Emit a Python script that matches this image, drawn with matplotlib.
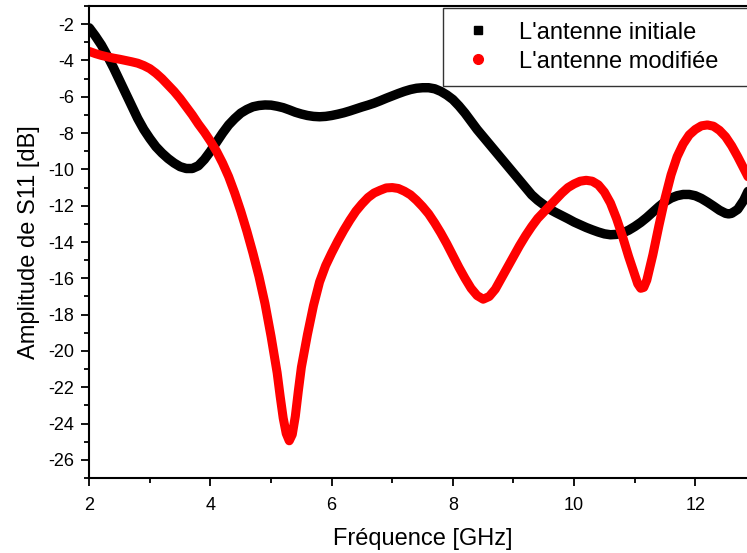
import matplotlib
matplotlib.use("Agg")
import matplotlib.pyplot as plt
from matplotlib.lines import Line2D
from matplotlib.ticker import MultipleLocator

plt.rcParams['font.family'] = ['Liberation Sans', 'DejaVu Sans']
plt.rcParams['axes.unicode_minus'] = False

# values
freq_init = [2.0, 2.1, 2.2, 2.3, 2.4, 2.5, 2.6, 2.7, 2.8, 2.9, 3.0, 3.1, 3.2, 3.3, 3.4,
             3.5, 3.6, 3.7, 3.8, 3.9, 4.0, 4.1, 4.2, 4.3, 4.4, 4.5, 4.6, 4.7, 4.8, 4.9,
             5.0, 5.1, 5.2, 5.3, 5.4, 5.5, 5.6, 5.7, 5.8, 5.9, 6.0, 6.1, 6.2, 6.3, 6.4,
             6.5, 6.6, 6.7, 6.8, 6.9, 7.0, 7.1, 7.2, 7.3, 7.4, 7.5, 7.6, 7.7, 7.8, 7.9,
             8.0, 8.1, 8.2, 8.3, 8.4, 8.5, 8.6, 8.7, 8.8, 8.9, 9.0, 9.1, 9.2, 9.3, 9.4,
             9.5, 9.6, 9.7, 9.8, 9.9, 10.0, 10.1, 10.2, 10.3, 10.4, 10.5, 10.6, 10.7,
             10.8, 10.9, 11.0, 11.1, 11.2, 11.3, 11.4, 11.5, 11.6, 11.7, 11.8, 11.9,
             12.0, 12.1, 12.2, 12.3, 12.4, 12.5, 12.55, 12.6, 12.7, 12.8, 12.9, 13.0]
s11_init = [-2.2, -2.65, -3.15, -3.75, -4.4, -5.1, -5.8, -6.5, -7.2, -7.8, -8.3, -8.75,
            -9.1, -9.4, -9.65, -9.85, -9.95, -9.95, -9.8, -9.45, -9.0, -8.5, -8.0, -7.55,
            -7.2, -6.9, -6.7, -6.55, -6.48, -6.45, -6.46, -6.52, -6.6, -6.72, -6.85,
            -6.95, -7.03, -7.08, -7.1, -7.08, -7.03, -6.96, -6.88, -6.78, -6.67, -6.56,
            -6.46, -6.35, -6.22, -6.08, -5.95, -5.82, -5.7, -5.6, -5.53, -5.5, -5.5,
            -5.56, -5.7, -5.9, -6.15, -6.5, -6.9, -7.35, -7.8, -8.2, -8.6, -9.0, -9.4,
            -9.8, -10.2, -10.6, -11.0, -11.4, -11.7, -11.95, -12.2, -12.38, -12.55,
            -12.72, -12.9, -13.05, -13.2, -13.33, -13.45, -13.55, -13.6, -13.58, -13.5,
            -13.35, -13.15, -12.92, -12.65, -12.35, -12.05, -11.78, -11.58, -11.45,
            -11.38, -11.38, -11.45, -11.6, -11.8, -12.02, -12.25, -12.42, -12.45, -12.42,
            -12.2, -11.7, -11.0, -10.3]

freq_mod = [2.0, 2.1, 2.2, 2.3, 2.4, 2.5, 2.6, 2.7, 2.8, 2.9, 3.0, 3.1, 3.2, 3.3, 3.4,
            3.5, 3.6, 3.7, 3.8, 3.9, 4.0, 4.1, 4.2, 4.3, 4.4, 4.5, 4.6, 4.7, 4.8, 4.9,
            5.0, 5.1, 5.15, 5.2, 5.25, 5.3, 5.35, 5.4, 5.45, 5.5, 5.6, 5.7, 5.8, 5.9,
            6.0, 6.1, 6.2, 6.3, 6.4, 6.5, 6.6, 6.7, 6.8, 6.9, 7.0, 7.1, 7.2, 7.3, 7.4,
            7.5, 7.6, 7.7, 7.8, 7.9, 8.0, 8.1, 8.2, 8.3, 8.4, 8.5, 8.6, 8.7, 8.8, 8.9,
            9.0, 9.1, 9.2, 9.3, 9.4, 9.5, 9.6, 9.7, 9.8, 9.9, 10.0, 10.1, 10.2, 10.3,
            10.4, 10.5, 10.6, 10.7, 10.8, 10.9, 11.0, 11.05, 11.1, 11.15, 11.2, 11.3,
            11.4, 11.5, 11.6, 11.7, 11.8, 11.9, 12.0, 12.1, 12.2, 12.3, 12.4, 12.5,
            12.6, 12.7, 12.8, 12.9, 13.0]
s11_mod = [-3.5, -3.62, -3.72, -3.8, -3.87, -3.93, -4.0, -4.07, -4.15, -4.28, -4.45,
           -4.7, -5.0, -5.35, -5.7, -6.1, -6.55, -7.0, -7.5, -7.95, -8.45, -9.0, -9.65,
           -10.4, -11.3, -12.3, -13.4, -14.6, -15.9, -17.4, -19.2, -21.2, -22.5, -23.7,
           -24.55, -24.95, -24.6, -23.6, -22.2, -20.9, -19.1, -17.5, -16.2, -15.3, -14.6,
           -13.95, -13.35, -12.8, -12.3, -11.9, -11.55, -11.3, -11.15, -11.02, -11.0,
           -11.05, -11.2, -11.4, -11.7, -12.05, -12.45, -12.95, -13.5, -14.1, -14.75,
           -15.4, -16.0, -16.55, -16.95, -17.15, -17.0, -16.6, -16.0, -15.4, -14.8,
           -14.2, -13.65, -13.15, -12.7, -12.35, -12.0, -11.65, -11.3, -11.0, -10.8,
           -10.65, -10.6, -10.65, -10.85, -11.25, -11.85, -12.7, -13.7, -14.8, -15.8,
           -16.3, -16.55, -16.5, -16.1, -14.7, -13.1, -11.6, -10.3, -9.3, -8.6, -8.1,
           -7.8, -7.6, -7.55, -7.62, -7.85, -8.2, -8.7, -9.3, -9.95, -10.6, -11.2]

labels = ["L'antenne initiale", "L'antenne modifiée"]

fig = plt.figure(figsize=(7.47, 5.53), dpi=100)
ax = fig.add_axes([0.1195, 0.1356, 0.8924, 0.8535])

ax.plot(freq_init, s11_init, color='black', lw=6.8, solid_capstyle='round', solid_joinstyle='round')
ax.plot(freq_mod, s11_mod, color='red', lw=6.5, solid_capstyle='round', solid_joinstyle='round')

ax.set_xlim(2, 13)
ax.set_ylim(-27, -1)
ax.xaxis.set_major_locator(MultipleLocator(2))
ax.xaxis.set_minor_locator(MultipleLocator(1))
ax.yaxis.set_major_locator(MultipleLocator(2))
ax.yaxis.set_minor_locator(MultipleLocator(1))
ax.tick_params(which='major', direction='out', length=6, width=1.3, labelsize=13, pad=5)
ax.tick_params(axis='x', which='major', pad=8)
ax.tick_params(which='minor', direction='out', length=3.5, width=1.3)
for s in ax.spines.values():
    s.set_linewidth(1.5)

ax.set_xlabel('Fréquence [GHz]', fontsize=17, labelpad=10)
ax.set_ylabel('Amplitude de S11 [dB]', fontsize=17, labelpad=6)

handles = [Line2D([], [], ls='none', marker='s', color='black', markersize=6),
           Line2D([], [], ls='none', marker='o', color='red', markersize=7)]
leg = ax.legend(handles, labels, loc='upper left', bbox_to_anchor=(0.5306, 0.8, 0.48, 0.196),
                mode='expand', borderaxespad=0, fontsize=17, frameon=True, fancybox=False,
                handlelength=1.84, handletextpad=0.78, borderpad=0.58, labelspacing=0.3)
leg.get_frame().set_edgecolor('black')
leg.get_frame().set_linewidth(1.0)

fig.savefig('out.png', dpi=100)
